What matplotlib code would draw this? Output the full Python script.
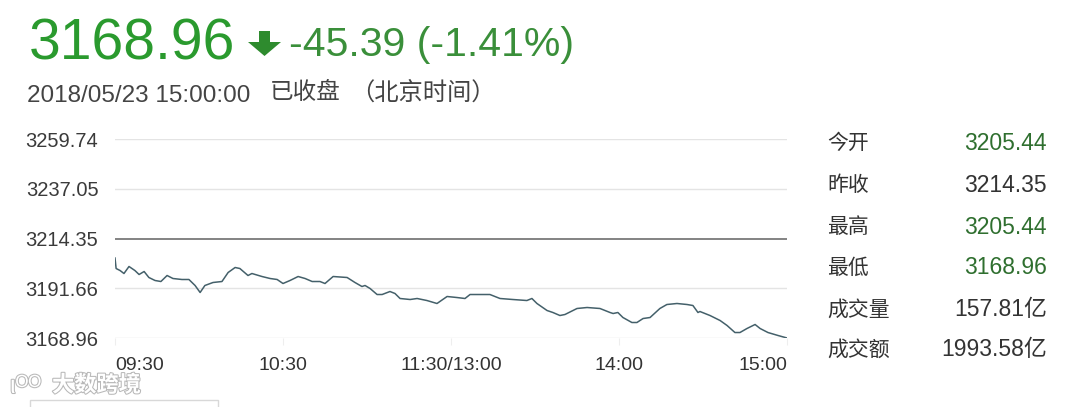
import matplotlib.pyplot as plt
import matplotlib.patheffects as pe
from matplotlib.patches import Polygon, Rectangle

plt.rcParams['font.family'] = ['Liberation Sans', 'Noto Sans CJK SC', 'DejaVu Sans']

# minutes since 09:30 (trading minutes, lunch break removed) and index level
minutes = [0, 0.4, 1.8, 3.2, 5, 7.1, 8.6, 10.4, 12.1, 14.3, 16.4, 18.6, 20.7, 23.9, 26.4,
           28.6, 30.4, 32.1, 35, 38.2, 40.4, 42.9, 44.6, 47.5, 48.9, 52.5, 55.4, 57.9,
           60, 62.5, 65.4, 67.9, 70.4, 73.2, 75, 77.9, 82.9, 85.7, 88.2, 89.3, 91.1,
           93.6, 95.4, 98.2, 100, 101.8, 105.4, 107.9, 111.4, 115, 118.6, 122.1, 125,
           126.8, 133.9, 137.5, 142.1, 147.1, 148.9, 150.7, 154.3, 156.4, 158.9, 160.7,
           165, 168.6, 173.2, 176.8, 177.9, 179.6, 181.4, 184.6, 186.4, 188.6, 191.1,
           194.6, 197.1, 200.7, 204.3, 206.4, 208.2, 208.9, 212.5, 216.1, 218.6, 221.4,
           223.2, 225.7, 228.6, 230.4, 233.2, 236.8, 240]
prices = [3205.44, 3200.66, 3199.75, 3198.38, 3201.58, 3199.75, 3197.93, 3199.29, 3196.56,
          3195.19, 3194.73, 3197.47, 3196.10, 3195.65, 3195.65, 3192.91, 3189.72, 3192.91,
          3194.28, 3194.73, 3198.84, 3201.12, 3200.66, 3197.47, 3198.38, 3197.01, 3196.10,
          3195.65, 3193.82, 3195.19, 3197.01, 3196.10, 3194.73, 3194.73, 3193.82, 3197.01,
          3196.56, 3194.28, 3192.45, 3192.91, 3191.54, 3188.80, 3188.80, 3190.17, 3189.26,
          3186.98, 3186.52, 3186.98, 3186.06, 3184.70, 3187.89, 3187.43, 3186.98, 3188.80,
          3188.80, 3186.98, 3186.52, 3186.06, 3186.98, 3184.70, 3181.50, 3180.59, 3179.22,
          3179.68, 3182.42, 3182.87, 3182.42, 3180.59, 3180.13, 3180.59, 3178.31, 3176.03,
          3176.03, 3177.85, 3178.31, 3182.42, 3184.24, 3184.70, 3184.24, 3183.78, 3180.59,
          3181.05, 3179.22, 3176.94, 3174.66, 3171.46, 3171.46, 3173.29, 3175.12, 3173.29,
          3171.46, 3170.10, 3168.96]

y_ticks = [3168.96, 3191.66, 3214.35, 3237.05, 3259.74]
prev_close = 3214.35
x_ticks = [0, 60, 120, 180, 240]
x_labels = ["09:30", "10:30", "11:30/13:00", "14:00", "15:00"]

stat_names = ["今开", "昨收", "最高", "最低", "成交量", "成交额"]
stat_values = ["3205.44", "3214.35", "3205.44", "3168.96", "157.81亿", "1993.58亿"]
stat_green = [True, False, True, True, False, False]

W, H = 1080, 407
fig = plt.figure(figsize=(W / 100, H / 100), dpi=100)
fig.patch.set_facecolor("white")

def fx(px):
    return px / W

def fy(py):
    return 1 - py / H

ax = fig.add_axes([fx(115), fy(338), fx(787) - fx(115), fy(139) - fy(338)])
ax.set_xlim(0, 240)
ax.set_ylim(y_ticks[0], y_ticks[-1])
for v in y_ticks:
    if v != prev_close:
        ax.axhline(v, color="#e4e4e4", lw=1, zorder=1)
ax.axhline(prev_close, color="#7a7a7a", lw=1.3, zorder=2)
ax.plot(minutes, prices, color="#44606a", lw=1.1, zorder=3)

for s in ax.spines.values():
    s.set_visible(False)
ax.set_yticks(y_ticks)
ax.set_yticklabels([f"{v:.2f}" for v in y_ticks], fontsize=14.5, color="#3a3a3a")
ax.tick_params(axis="y", length=0, pad=12)
ax.set_xticks(x_ticks)
ax.set_xticklabels(x_labels, fontsize=14, color="#333333")
ax.tick_params(axis="x", length=5, color="#eeeeee", pad=9)
tl = ax.get_xticklabels()
tl[0].set_ha("left")
tl[-1].set_ha("right")

# header
green = "#2a9a2e"
fig.text(fx(29), fy(59), "3168.96", fontsize=41, color=green, va="baseline", ha="left")
arrow = [(259, 31), (270, 31), (270, 42), (281, 42), (264.5, 56), (248, 42), (259, 42)]
fig.patches.append(Polygon([(fx(x), fy(y)) for x, y in arrow], closed=True,
                           transform=fig.transFigure, facecolor="#2e8b2e", edgecolor="none"))
fig.text(fx(289), fy(56), "-45.39 (-1.41%)", fontsize=29.5, color="#3a8f3a",
         va="baseline", ha="left")
fig.text(fx(27), fy(102), "2018/05/23 15:00:00", fontsize=17.5, color="#444444",
         va="baseline", ha="left")
fig.text(fx(270), fy(93), "已收盘", fontsize=17, color="#444444", va="center", ha="left")
fig.text(fx(350), fy(93), "（北京时间）", fontsize=17.5, color="#444444", va="center", ha="left")

# stats panel
row_y = [143, 185, 227, 268, 310, 350]
for name, val, g, py in zip(stat_names, stat_values, stat_green, row_y):
    fig.text(fx(827), fy(py), name, fontsize=15, color="#333333", va="center", ha="left")
    fig.text(fx(1047), fy(py), val, fontsize=16.5, color="#2f6f2f" if g else "#333333",
             va="center", ha="right")

# watermark
fig.text(fx(10), fy(386), "ιᴼᴼ", fontsize=18, color="white", va="center", ha="left",
         path_effects=[pe.withStroke(linewidth=1.5, foreground="#b8b8b8")])
fig.text(fx(52), fy(386), "大数跨境", fontsize=16, color="white", va="center", ha="left",
         fontweight="bold",
         path_effects=[pe.withStroke(linewidth=1.5, foreground="#b8b8b8")])
fig.patches.append(Rectangle((fx(30), fy(420)), fx(188), fy(400) - fy(420),
                             transform=fig.transFigure, fill=False, edgecolor="#d8d8d8", lw=1))

fig.savefig("out.png", dpi=100)
